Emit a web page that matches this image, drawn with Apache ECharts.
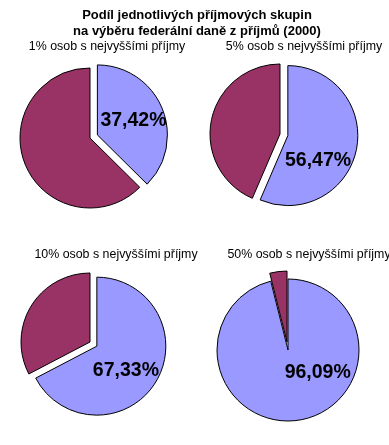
<!DOCTYPE html>
<html>
<head>
<meta charset="utf-8">
<script src="https://cdn.jsdelivr.net/npm/echarts@6/dist/echarts.min.js"></script>
<style>
html,body{margin:0;padding:0;background:#fff;}
#chart{width:389px;height:445px;}
</style>
</head>
<body>
<div id="chart"></div>
<script>
// ---- data ----
const mainTitle = 'Podíl jednotlivých příjmových skupin\nna výběru federální daně z příjmů (2000)';
const groups = ['1% osob s nejvyššími příjmy', '5% osob s nejvyššími příjmy', '10% osob s nejvyššími příjmy', '50% osob s nejvyššími příjmy'];
const topShare = [37.42, 56.47, 67.33, 96.09];     // share of the top group (blue)
const restShare = [62.58, 43.53, 32.67, 3.91];     // remainder (maroon)
const explodedSlice = [0, 0, 0, 1];                // which slice is pulled out

// ---- layout / style ----
const BLUE = '#9999FF', MAROON = '#993366';
const FONT = 'Arial, "Liberation Sans", sans-serif';
const centers = [[90, 138], [280, 134], [90, 342], [288, 350]];
const radii = [70, 70, 69, 71];
const labelShift = [{dx: 1, dy: 0}, {dx: -7, dy: 17}, {dx: -3, dy: 5}, {dx: 25, dy: -16}];
const subPos = [{left: 102, top: 36}, {left: 299, top: 36}, {left: 111, top: 244}, {left: 304, top: 244}];

const fmt = v => v.toFixed(2).replace('.', ',') + '%';

const titles = [{
  text: mainTitle,
  left: 192, top: 2, textAlign: 'center',
  textStyle: {fontFamily: FONT, fontSize: 13, fontWeight: 'bold', color: '#000', lineHeight: 16}
}];
groups.forEach((g, i) => {
  titles.push({
    text: g, left: subPos[i].left, top: subPos[i].top, textAlign: 'center',
    textStyle: {fontFamily: FONT, fontSize: 12.4, fontWeight: 'normal', color: '#000'}
  });
});

const series = groups.map((g, i) => ({
  type: 'pie',
  name: g,
  center: centers[i],
  radius: radii[i],
  startAngle: 90,
  clockwise: true,
  selectedMode: 'single',
  selectedOffset: 8,
  animation: false,
  silent: true,
  emphasis: {disabled: true, scale: false},
  itemStyle: {borderColor: '#000', borderWidth: 1},
  labelLine: {show: false},
  labelLayout: labelShift[i],
  data: [
    {
      value: topShare[i], name: 'top',
      selected: explodedSlice[i] === 0,
      itemStyle: {color: BLUE},
      label: {
        show: true, position: 'inside', formatter: p => fmt(p.value),
        fontFamily: FONT, fontSize: 19.5, fontWeight: 'bold', color: '#000'
      }
    },
    {
      value: restShare[i], name: 'rest',
      selected: explodedSlice[i] === 1,
      itemStyle: {color: MAROON},
      label: {show: false}
    }
  ]
}));

const chart = echarts.init(document.getElementById('chart'), null, {renderer: 'canvas'});
chart.setOption({
  backgroundColor: '#fff',
  animation: false,
  title: titles,
  series: series
});
</script>
</body>
</html>
